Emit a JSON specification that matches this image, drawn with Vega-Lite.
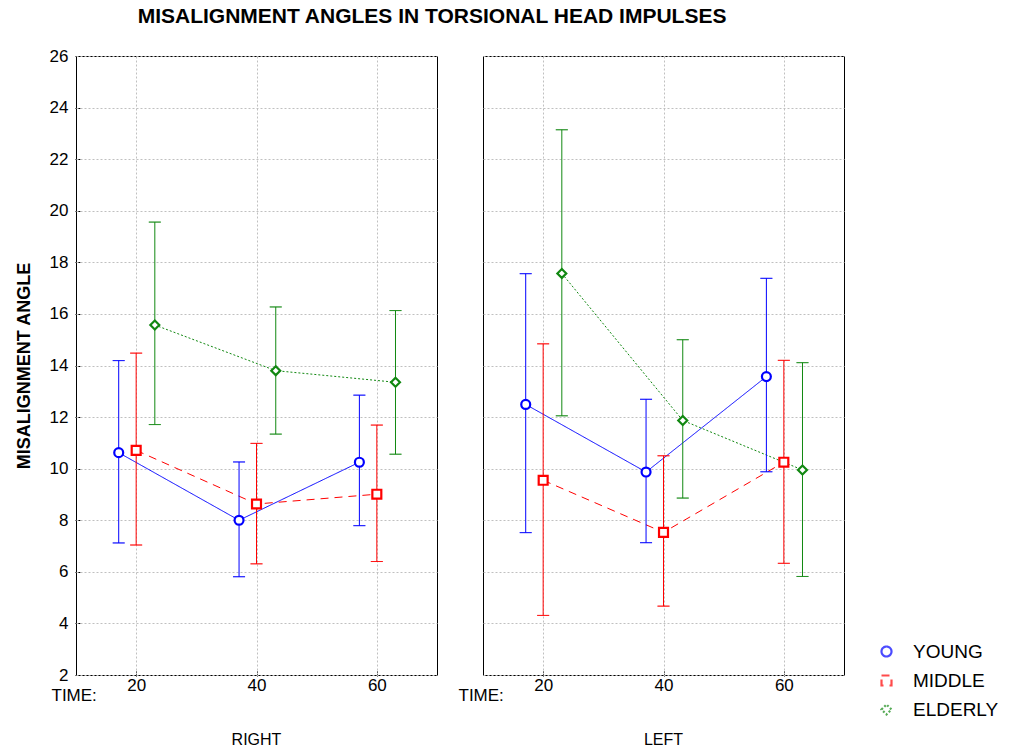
{
  "$schema": "https://vega.github.io/schema/vega-lite/v6.json",
  "background": "white",
  "padding": {"left": 15, "top": 6, "right": 5, "bottom": 2},
  "title": {"text": "MISALIGNMENT ANGLES IN TORSIONAL HEAD IMPULSES", "fontSize": 21, "fontWeight": "bold", "font": "Liberation Sans", "anchor": "middle", "offset": 20, "dx": -75, "color": "black"},
  "data": {"values": [
    {"side": "RIGHT", "group": "YOUNG", "time": 17.1, "mean": 10.62, "lo": 7.12, "hi": 14.19},
    {"side": "RIGHT", "group": "YOUNG", "time": 37.1, "mean": 8.0, "lo": 5.81, "hi": 10.26},
    {"side": "RIGHT", "group": "YOUNG", "time": 57.1, "mean": 10.25, "lo": 7.79, "hi": 12.85},
    {"side": "RIGHT", "group": "MIDDLE", "time": 20, "mean": 10.71, "lo": 7.04, "hi": 14.48},
    {"side": "RIGHT", "group": "MIDDLE", "time": 40, "mean": 8.63, "lo": 6.31, "hi": 10.98},
    {"side": "RIGHT", "group": "MIDDLE", "time": 60, "mean": 9.01, "lo": 6.4, "hi": 11.69},
    {"side": "RIGHT", "group": "ELDERLY", "time": 23.1, "mean": 15.57, "lo": 11.71, "hi": 19.56},
    {"side": "RIGHT", "group": "ELDERLY", "time": 43.2, "mean": 13.8, "lo": 11.34, "hi": 16.27},
    {"side": "RIGHT", "group": "ELDERLY", "time": 63.1, "mean": 13.35, "lo": 10.56, "hi": 16.13},
    {"side": "LEFT", "group": "YOUNG", "time": 17.1, "mean": 12.49, "lo": 7.52, "hi": 17.56},
    {"side": "LEFT", "group": "YOUNG", "time": 37.1, "mean": 9.87, "lo": 7.13, "hi": 12.69},
    {"side": "LEFT", "group": "YOUNG", "time": 57.1, "mean": 13.57, "lo": 9.88, "hi": 17.38},
    {"side": "LEFT", "group": "MIDDLE", "time": 20, "mean": 9.55, "lo": 4.31, "hi": 14.84},
    {"side": "LEFT", "group": "MIDDLE", "time": 40, "mean": 7.53, "lo": 4.67, "hi": 10.5},
    {"side": "LEFT", "group": "MIDDLE", "time": 60, "mean": 10.25, "lo": 6.33, "hi": 14.2},
    {"side": "LEFT", "group": "ELDERLY", "time": 23.1, "mean": 17.57, "lo": 12.05, "hi": 23.14},
    {"side": "LEFT", "group": "ELDERLY", "time": 43.2, "mean": 11.87, "lo": 8.86, "hi": 15.0},
    {"side": "LEFT", "group": "ELDERLY", "time": 63.1, "mean": 9.95, "lo": 5.82, "hi": 14.11}
  ]},
  "facet": {"column": {"field": "side", "type": "nominal", "sort": ["RIGHT", "LEFT"], "title": null,
    "header": {"labelOrient": "bottom", "labelFontSize": 16, "labelFont": "Liberation Sans", "labelPadding": 29, "labelColor": "black"}}},
  "spacing": 44,
  "spec": {
    "width": 361,
    "height": 619,
    "encoding": {
      "x": {"field": "time", "type": "quantitative", "scale": {"domain": [10, 70], "nice": false, "zero": false},
        "axis": {"values": [20, 40, 60], "title": "TIME:", "titleAnchor": "start", "titleAlign": "left", "titleX": -25, "titleY": 19, "titleBaseline": "middle", "titleFontWeight": "normal", "titleFontSize": 17, "titleFont": "Liberation Sans", "titleColor": "black", "labelPadding": 6, "tickSize": -5}},
      "color": {"field": "group", "type": "nominal", "scale": {"domain": ["YOUNG", "MIDDLE", "ELDERLY"], "range": ["#0000ff", "#ff0000", "#118811"]},
        "legend": {"title": null, "orient": "none", "legendX": 801, "legendY": 586}}
    },
    "layer": [
      {"mark": {"type": "line", "strokeWidth": 1},
       "encoding": {
         "y": {"field": "mean", "type": "quantitative", "scale": {"domain": [2, 26], "nice": false, "zero": false},
           "axis": {"values": [2,4,6,8,10,12,14,16,18,20,22,24,26], "title": "MISALIGNMENT ANGLE", "titleFontSize": 18, "titleFontWeight": "bold", "titleFont": "Liberation Sans", "titleColor": "black", "titlePadding": 16, "tickSize": -5, "labelPadding": 12}},
         "strokeDash": {"field": "group", "type": "nominal", "scale": {"domain": ["YOUNG", "MIDDLE", "ELDERLY"], "range": [[1, 0], [8, 6], [2, 2]]}, "legend": null}
       }},
      {"mark": {"type": "rule", "strokeWidth": 1},
       "encoding": {"y": {"field": "lo", "type": "quantitative"}, "y2": {"field": "hi"}}},
      {"mark": {"type": "tick", "orient": "horizontal", "size": 12, "thickness": 0.01, "filled": false, "strokeWidth": 1},
       "encoding": {"y": {"field": "lo", "type": "quantitative"}}},
      {"mark": {"type": "tick", "orient": "horizontal", "size": 12, "thickness": 0.01, "filled": false, "strokeWidth": 1},
       "encoding": {"y": {"field": "hi", "type": "quantitative"}}},
      {"mark": {"type": "point", "filled": false, "fill": "white", "strokeWidth": 2.2, "size": 80, "opacity": 1},
       "encoding": {
         "y": {"field": "mean", "type": "quantitative"},
         "shape": {"field": "group", "type": "nominal", "scale": {"domain": ["YOUNG", "MIDDLE", "ELDERLY"], "range": ["circle", "square", "diamond"]},
           "legend": {"title": null, "orient": "none", "legendX": 801, "legendY": 586}}
       }}
    ]
  },
  "config": {
    "font": "Liberation Sans",
    "view": {"stroke": "black", "strokeWidth": 1},
    "axis": {"labelFontSize": 17, "labelFont": "Liberation Sans", "labelColor": "black", "tickColor": "black", "domain": false, "gridColor": "#c0c0c0", "gridDash": [2, 2], "gridWidth": 1},
    "legend": {"labelFontSize": 19, "labelFont": "Liberation Sans", "labelColor": "black", "symbolSize": 100, "symbolStrokeWidth": 2.2, "rowPadding": 9, "labelOffset": 17, "symbolFillColor": "white"}
  }
}
